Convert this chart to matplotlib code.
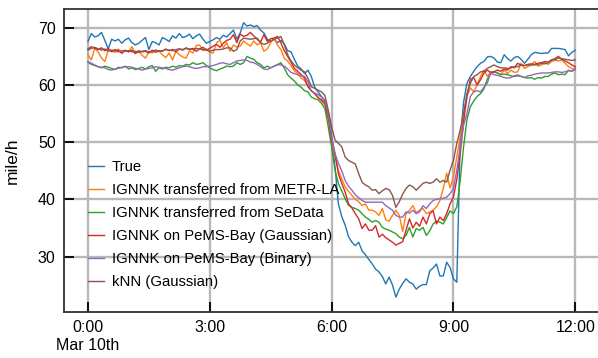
import matplotlib
matplotlib.use("Agg")
import matplotlib.pyplot as plt
import numpy as np

plt.rcParams['font.family'] = ['Liberation Sans', 'DejaVu Sans']

# speed (mile/h), one value every 5 minutes from 0:00 to 12:00
true_speed = [
    67.6, 69.0, 68.4, 68.6, 69.2, 67.8, 66.3, 68.0, 67.7, 68.0, 67.3, 67.9,
    68.2, 67.4, 67.0, 67.3, 67.8, 68.3, 66.2, 67.6, 67.4, 67.0, 68.3, 68.0,
    67.6, 68.6, 68.2, 69.0, 68.3, 68.5, 68.9, 68.1, 68.6, 68.9, 68.0, 67.3,
    67.6, 67.9, 68.3, 68.0, 68.7, 68.4, 69.0, 69.6, 68.0, 69.1, 70.9, 70.3,
    70.5, 70.2, 70.4, 69.6, 69.1, 68.0, 67.6, 68.0, 67.4, 67.8, 67.2, 66.0,
    65.8, 64.5, 63.3, 62.8, 62.0, 62.6, 61.5, 59.6, 58.8, 58.0, 57.3, 55.5,
    51.0, 45.7, 39.2, 37.0, 35.5, 33.5, 32.5, 31.9, 32.5, 31.0, 30.3, 29.5,
    28.7, 27.8, 27.3, 26.5, 25.2, 26.4, 25.0, 22.9, 24.3, 25.3, 26.1, 25.5,
    25.2, 24.3, 24.8, 25.1, 25.1, 27.5, 28.0, 28.7, 26.6, 26.6, 29.0, 28.1,
    26.1, 25.5, 50.0, 57.0, 60.3, 61.5, 62.4, 63.2, 63.8, 64.1, 64.9, 65.0,
    64.7, 64.0, 63.9, 65.3, 64.6, 64.2, 64.8, 65.0, 64.5, 63.8, 64.5, 65.3,
    65.7, 65.6, 65.5, 65.6, 65.6, 66.4, 66.4, 66.4, 66.3, 66.2, 65.1, 65.7,
    66.1,
]
metr_la = [
    65.3, 64.4, 66.4, 65.8, 64.7, 64.1, 66.2, 66.0, 65.7, 66.3, 65.5, 66.0,
    65.8, 66.7, 65.5, 65.9, 65.2, 64.7, 65.8, 65.6, 66.1, 65.9, 65.3, 64.8,
    65.6, 64.4, 65.9, 65.3, 64.9, 64.7, 66.0, 65.6, 66.9, 67.0, 66.0, 66.3,
    65.7, 65.6, 67.4, 67.8, 66.5, 67.4, 65.9, 67.0, 66.6, 66.8, 67.7, 67.2,
    66.8, 67.7, 67.0, 67.4, 65.9, 66.3, 67.4, 68.2, 67.0, 66.2, 64.7, 64.2,
    63.4, 62.5, 62.0, 61.2, 60.8, 59.8, 59.0, 58.5, 57.8, 57.2, 56.5, 54.0,
    49.8, 47.5, 45.1, 43.6, 42.2, 41.4, 40.7, 40.0, 39.6, 38.9, 39.2, 38.1,
    38.1, 37.8, 37.2, 38.4, 36.4, 36.2, 37.2, 38.1, 37.2, 34.4, 37.5, 38.1,
    38.9, 37.7, 38.1, 38.4, 37.5, 37.8, 38.1, 38.7, 39.8, 41.9, 44.6, 42.0,
    43.9, 47.4, 51.0, 55.0, 58.0, 59.5, 58.8, 60.0, 61.5, 62.6, 61.5, 62.3,
    62.3, 62.1, 61.8, 62.6, 62.0, 62.6, 62.2, 62.3, 63.8, 62.9, 63.2, 63.5,
    64.1, 63.3, 63.5, 63.9, 63.6, 64.1, 64.4, 64.2, 64.4, 63.8, 63.2, 62.9,
    62.6,
]
sedata = [
    64.0, 63.6, 63.4, 63.2, 63.0, 63.3, 63.1, 62.9, 62.7, 63.1, 63.0, 63.3,
    62.8, 63.0, 62.7, 62.9, 63.1, 62.8, 63.2, 63.4, 62.4, 63.0, 62.8, 63.1,
    63.0, 63.3, 63.1, 63.4, 63.3, 63.6, 63.5, 63.9, 63.6, 63.7, 63.9, 63.4,
    63.0, 62.7, 62.5, 62.8, 63.0, 63.3, 63.2, 63.3, 63.9, 63.6, 63.9, 65.0,
    64.7, 64.5, 63.9, 63.6, 63.0, 63.3, 63.0, 63.3, 63.5, 63.9, 63.0, 61.8,
    61.2, 60.7, 60.0, 59.6, 59.0, 58.8, 57.9, 57.6, 57.4, 56.8, 55.9, 52.7,
    49.2, 45.1, 42.8, 41.5, 40.1, 39.0, 38.6, 38.4, 38.1, 37.5, 36.9, 36.5,
    36.0, 36.3, 36.0, 35.1, 34.8, 34.6, 34.3, 34.0, 33.4, 33.1, 33.7, 35.1,
    33.4, 34.9, 34.6, 35.1, 33.7, 34.5, 35.7, 36.2, 36.0, 35.7, 36.8, 38.0,
    37.5, 38.7, 43.3, 49.2, 54.0, 56.2, 57.2, 58.0, 58.5, 59.3, 61.0, 62.0,
    62.3, 62.1, 61.8, 61.9, 61.8, 61.6, 61.5, 61.6, 61.5, 61.3, 61.2, 61.3,
    61.0, 61.3, 61.2, 61.5, 61.5, 61.9, 62.1, 61.8, 61.9, 61.8, 62.6, 62.4,
    62.9,
]
pems_gauss = [
    66.3, 66.7, 66.4, 66.2, 66.5, 66.0, 66.4, 65.8, 66.2, 66.0, 65.6, 66.1,
    65.8, 66.1, 65.5, 66.0, 65.8, 65.9, 65.6, 66.1, 65.7, 66.0, 65.9, 66.3,
    66.0, 66.2, 65.8, 66.3, 66.1, 66.5, 66.2, 66.4, 65.9, 66.3, 66.6, 66.1,
    66.4, 66.8, 67.1, 66.6, 67.3, 67.8, 68.0, 68.8, 67.4, 68.9, 68.5, 68.7,
    69.2, 68.6, 68.0, 67.5, 68.8, 67.6, 68.1, 68.2, 68.5, 67.4, 66.0, 65.0,
    64.0, 62.9, 62.4, 61.8, 61.2, 59.7, 59.0, 58.5, 57.8, 57.4, 56.8, 54.4,
    50.5, 48.0, 44.5, 42.8, 41.3, 39.2, 38.5, 37.5, 36.6, 34.9, 35.7, 34.6,
    34.6, 35.4, 33.4, 33.9, 33.3, 32.9, 32.5, 32.0, 32.3, 32.6, 34.6, 36.6,
    35.0, 36.0, 35.3, 36.9, 35.7, 37.5, 38.0, 35.7, 36.9, 36.3, 37.5, 39.2,
    40.4, 43.5, 48.0, 53.5, 58.0, 61.0, 61.3, 60.0, 60.9, 62.1, 62.6, 62.2,
    62.3, 62.6, 62.4, 62.8, 62.6, 63.2, 63.0, 63.8, 63.5, 63.4, 63.6, 63.7,
    63.6, 63.8, 63.9, 64.1, 64.0, 64.4, 64.6, 65.0, 64.5, 64.2, 63.9, 63.5,
    63.2,
]
pems_binary = [
    64.1, 63.8, 63.5, 63.2, 63.1, 63.0, 62.7, 62.6, 62.8, 62.9, 63.1, 63.2,
    63.2, 63.1, 62.9, 62.8, 62.6, 62.8, 62.9, 63.0, 63.2, 63.1, 63.0, 62.9,
    62.7, 62.6, 62.8, 63.0, 63.2, 63.3, 63.2, 63.0, 62.9, 63.0, 63.2, 63.2,
    63.3, 63.4, 63.6, 63.8, 63.9, 63.7, 63.6, 63.9, 64.2, 64.3, 64.4, 64.3,
    64.0, 63.9, 63.6, 63.2, 62.8, 62.7, 63.0, 63.3, 63.6, 63.5, 63.3, 62.8,
    62.2, 62.0, 61.8, 61.6, 61.5, 60.6, 58.9, 58.6, 58.3, 57.9, 57.1, 55.0,
    51.0, 48.0, 46.3, 45.0, 43.3, 42.3, 41.6, 40.8, 40.3, 39.8, 39.5, 39.5,
    39.5, 39.5, 39.5, 39.5, 38.9, 38.5, 38.1, 37.2, 36.9, 36.9, 37.8, 37.6,
    38.1, 37.5, 37.8, 38.9, 38.4, 39.2, 39.8, 40.0, 40.1, 40.2, 40.4, 41.0,
    41.9, 45.1, 49.2, 53.0, 55.0, 58.0, 58.8, 59.0, 58.8, 59.6, 60.3, 62.1,
    61.8, 61.7, 61.5, 61.3, 61.2, 61.3, 61.6, 61.8, 61.5, 61.3, 61.6, 61.7,
    61.9, 62.0, 62.1, 62.1, 62.1, 62.2, 62.3, 62.3, 62.2, 62.3, 62.5, 62.4,
    62.8,
]
knn_gauss = [
    66.1, 66.4, 66.6, 66.3, 66.1, 66.3, 65.9, 66.1, 66.0, 65.8, 66.0, 65.9,
    66.0, 65.8, 65.9, 65.7, 65.9, 66.0, 65.8, 65.9, 66.1, 65.9, 66.0, 66.2,
    66.1, 66.0, 66.2, 66.3, 66.2, 66.4, 66.3, 66.2, 66.4, 66.3, 66.2, 66.1,
    65.9, 66.1, 66.2, 66.2, 66.3, 66.5, 66.5, 65.9, 66.2, 67.7, 68.2, 68.1,
    68.0, 68.1, 68.2, 67.4, 67.1, 67.3, 67.7, 68.0, 68.2, 68.5, 67.1, 65.3,
    64.2, 63.5, 63.0, 62.6, 62.3, 61.2, 59.7, 59.4, 59.1, 58.8, 58.2, 55.6,
    52.7, 50.4, 49.8, 49.2, 47.4, 46.8, 46.5, 46.2, 44.5, 43.0, 42.5, 42.2,
    41.6, 41.7, 41.0, 41.5, 41.9, 41.7, 40.7, 38.6, 39.6, 40.9, 41.9, 42.5,
    42.2, 41.6, 42.2, 42.8, 43.0, 42.8, 43.0, 43.6, 43.0, 43.3, 43.0, 45.1,
    46.8, 49.8, 52.1, 55.0, 58.5, 60.3, 61.5, 61.8, 62.3, 62.4, 62.9, 63.2,
    63.5, 63.2, 63.0, 63.0, 62.9, 63.0, 63.2, 63.2, 63.5, 63.4, 63.5, 63.5,
    63.5, 63.6, 63.8, 63.7, 63.9, 64.4, 64.4, 64.7, 64.6, 64.5, 64.4, 64.3,
    64.4,
]

labels = [
    "True",
    "IGNNK transferred from METR-LA",
    "IGNNK transferred from SeData",
    "IGNNK on PeMS-Bay (Gaussian)",
    "IGNNK on PeMS-Bay (Binary)",
    "kNN (Gaussian)",
]
tick_hours = [0, 3, 6, 9, 12]
tick_labels = ["0:00\nMar 10th", "3:00", "6:00", "9:00", "12:00"]

series = [true_speed, metr_la, sedata, pems_gauss, pems_binary, knn_gauss]
hours = np.arange(len(true_speed)) * 5 / 60

fig = plt.figure(figsize=(5.98, 3.58), dpi=100)
ax = fig.add_axes([0.107, 0.1285, 0.893, 0.8465])

for i, (vals, lab) in enumerate(zip(series, labels)):
    ax.plot(hours, vals, color="C%d" % i, lw=1.0, label=lab)

ax.set_xlim(-0.59, 12.56)
ax.set_ylim(20.3, 73.3)
ax.set_xticks(tick_hours)
ax.set_xticklabels(tick_labels)
ax.set_yticks([30, 40, 50, 60, 70])
ax.grid(True, color="#b8b8b8", lw=1.7)
ax.set_axisbelow(True)
ax.tick_params(direction="in", length=7, width=1.3, color="black",
               labelsize=11.5, pad=6)
ax.set_ylabel("mile/h", fontsize=12.5)
ax.yaxis.set_label_coords(-0.083, 0.5)

for side in ["left", "bottom", "top"]:
    ax.spines[side].set_color("#333333")
    ax.spines[side].set_linewidth(1.3)
ax.spines["right"].set_visible(False)

leg = ax.legend(loc="upper left", bbox_to_anchor=(0.034, 0.52), frameon=False,
                fontsize=10.7, handlelength=1.1, handletextpad=0.5,
                labelspacing=0.6, borderaxespad=0)
for h in leg.get_lines():
    h.set_linewidth(1.0)

fig.savefig("out.png", dpi=100)
